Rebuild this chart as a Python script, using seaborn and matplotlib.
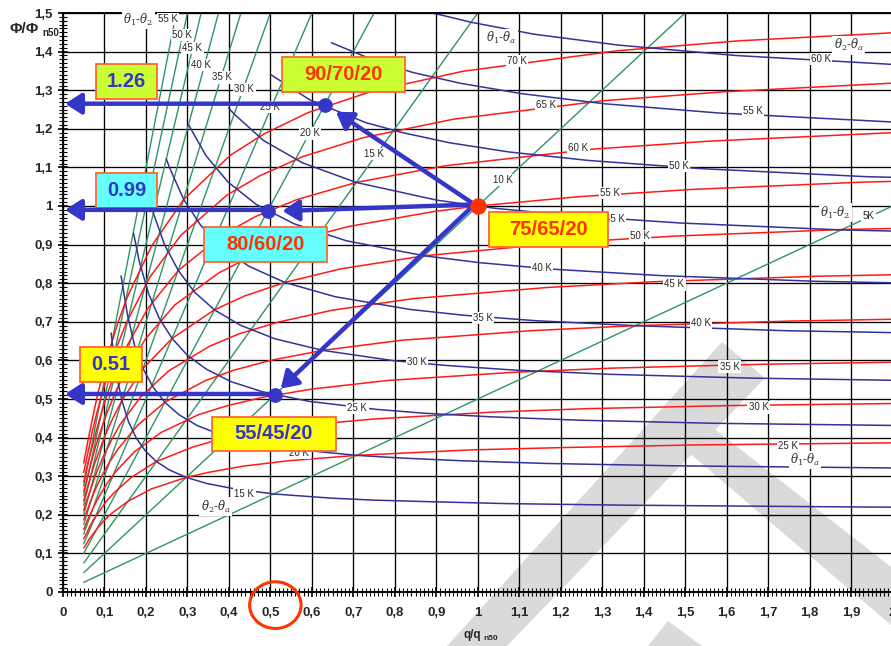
import matplotlib
matplotlib.use("Agg")
import matplotlib.pyplot as plt
import seaborn as sns
from matplotlib.patches import Rectangle, Ellipse, Polygon

# ---- data (q/qn50 -> x, Phi/Phin50 -> y) ----
# red: theta1 - theta_a constant
red70_q = [0.050, 0.061, 0.073, 0.084, 0.096, 0.112, 0.133, 0.157, 0.214, 0.291, 0.404, 0.485, 0.591, 0.741, 0.964, 1.335, 1.631, 2.076]
red70_phi = [0.334, 0.397, 0.459, 0.514, 0.564, 0.627, 0.700, 0.769, 0.897, 1.017, 1.132, 1.187, 1.242, 1.296, 1.349, 1.402, 1.428, 1.453]
red65_q = [0.050, 0.060, 0.071, 0.082, 0.094, 0.109, 0.130, 0.153, 0.209, 0.284, 0.395, 0.474, 0.578, 0.724, 0.942, 1.305, 1.596, 2.031]
red65_phi = [0.310, 0.360, 0.417, 0.466, 0.512, 0.569, 0.636, 0.698, 0.815, 0.924, 1.028, 1.078, 1.128, 1.177, 1.225, 1.273, 1.296, 1.320]
red60_q = [0.050, 0.058, 0.070, 0.081, 0.092, 0.107, 0.127, 0.150, 0.204, 0.278, 0.386, 0.463, 0.565, 0.707, 0.920, 1.274, 1.558, 1.982, 2.892]
red60_phi = [0.285, 0.325, 0.375, 0.420, 0.462, 0.513, 0.573, 0.629, 0.734, 0.833, 0.926, 0.972, 1.017, 1.061, 1.104, 1.147, 1.168, 1.189, 1.215]
red55_q = [0.050, 0.057, 0.068, 0.078, 0.089, 0.104, 0.124, 0.146, 0.199, 0.270, 0.376, 0.451, 0.550, 0.689, 0.896, 1.000, 1.242, 1.518, 1.931, 2.818]
red55_phi = [0.260, 0.290, 0.335, 0.375, 0.412, 0.458, 0.512, 0.562, 0.656, 0.744, 0.827, 0.868, 0.908, 0.947, 0.986, 1.000, 1.024, 1.043, 1.062, 1.085]
red50_q = [0.050, 0.055, 0.066, 0.076, 0.087, 0.101, 0.121, 0.142, 0.193, 0.263, 0.365, 0.438, 0.535, 0.669, 0.871, 1.207, 1.475, 1.877, 2.738]
red50_phi = [0.236, 0.256, 0.296, 0.332, 0.364, 0.405, 0.452, 0.496, 0.579, 0.657, 0.731, 0.767, 0.802, 0.837, 0.871, 0.905, 0.922, 0.939, 0.958]
red45_q = [0.050, 0.053, 0.064, 0.074, 0.084, 0.098, 0.117, 0.137, 0.187, 0.255, 0.354, 0.425, 0.518, 0.649, 0.844, 1.169, 1.429, 1.818, 2.653]
red45_phi = [0.211, 0.224, 0.258, 0.289, 0.318, 0.353, 0.394, 0.433, 0.505, 0.573, 0.637, 0.669, 0.699, 0.730, 0.760, 0.789, 0.804, 0.818, 0.836]
red40_q = [0.050, 0.062, 0.071, 0.081, 0.095, 0.113, 0.133, 0.181, 0.246, 0.342, 0.410, 0.500, 0.626, 0.815, 1.129, 1.379, 1.755, 2.561]
red40_phi = [0.187, 0.222, 0.248, 0.273, 0.303, 0.338, 0.371, 0.433, 0.492, 0.547, 0.574, 0.600, 0.626, 0.652, 0.677, 0.690, 0.702, 0.717]
red35_q = [0.050, 0.059, 0.069, 0.078, 0.091, 0.108, 0.127, 0.173, 0.236, 0.328, 0.394, 0.480, 0.602, 0.783, 1.084, 1.325, 1.687, 2.460]
red35_phi = [0.162, 0.186, 0.209, 0.229, 0.255, 0.284, 0.312, 0.364, 0.413, 0.460, 0.482, 0.504, 0.526, 0.548, 0.569, 0.580, 0.590, 0.603]
red30_q = [0.050, 0.057, 0.065, 0.074, 0.087, 0.103, 0.122, 0.166, 0.225, 0.314, 0.376, 0.459, 0.574, 0.747, 1.035, 1.265, 1.610, 2.349]
red30_phi = [0.138, 0.152, 0.171, 0.188, 0.208, 0.233, 0.256, 0.298, 0.338, 0.376, 0.395, 0.413, 0.431, 0.448, 0.466, 0.475, 0.483, 0.493]
red25_q = [0.050, 0.054, 0.062, 0.071, 0.082, 0.098, 0.115, 0.157, 0.213, 0.297, 0.356, 0.434, 0.544, 0.708, 0.980, 1.198, 1.525, 2.224]
red25_phi = [0.114, 0.120, 0.135, 0.148, 0.164, 0.184, 0.202, 0.235, 0.267, 0.297, 0.311, 0.326, 0.340, 0.354, 0.368, 0.374, 0.381, 0.389]

# blue: theta2 - theta_a constant
blue60_q = [0.884, 0.984, 1.136, 1.338, 1.621, 2.046]
blue60_phi = [1.502, 1.476, 1.445, 1.417, 1.390, 1.364]
blue55_q = [0.647, 0.751, 0.843, 0.958, 1.106, 1.304, 1.580, 1.993, 2.880]
blue55_phi = [1.423, 1.377, 1.346, 1.318, 1.291, 1.265, 1.241, 1.218, 1.192]
blue50_q = [0.500, 0.595, 0.730, 0.819, 0.931, 1.075, 1.267, 1.535, 1.937, 2.798]
blue50_phi = [1.341, 1.275, 1.216, 1.190, 1.164, 1.140, 1.118, 1.097, 1.076, 1.053]
blue45_q = [0.399, 0.413, 0.483, 0.577, 0.707, 0.902, 1.042, 1.227, 1.487, 1.877, 2.711]
blue45_phi = [1.254, 1.238, 1.170, 1.112, 1.061, 1.015, 0.994, 0.975, 0.956, 0.938, 0.918]
blue40_q = [0.303, 0.345, 0.398, 0.466, 0.557, 0.683, 0.871, 1.006, 1.185, 1.436, 1.812, 2.617]
blue40_phi = [1.210, 1.130, 1.062, 1.004, 0.954, 0.910, 0.871, 0.853, 0.836, 0.820, 0.805, 0.788]
blue35_q = [0.249, 0.257, 0.291, 0.332, 0.383, 0.448, 0.535, 0.656, 0.837, 0.966, 1.138, 1.379, 1.741, 2.515]
blue35_phi = [1.122, 1.099, 1.017, 0.950, 0.893, 0.844, 0.802, 0.765, 0.732, 0.717, 0.703, 0.690, 0.677, 0.662]
blue30_q = [0.211, 0.218, 0.245, 0.278, 0.317, 0.365, 0.428, 0.511, 0.626, 0.799, 0.923, 1.087, 1.317, 1.662, 2.401]
blue30_phi = [1.011, 0.981, 0.899, 0.833, 0.777, 0.731, 0.691, 0.656, 0.626, 0.599, 0.587, 0.575, 0.564, 0.554, 0.542]
blue25_q = [0.170, 0.184, 0.206, 0.232, 0.263, 0.300, 0.346, 0.405, 0.483, 0.593, 0.757, 0.873, 1.029, 1.247, 1.574, 2.273]
blue25_phi = [0.930, 0.856, 0.774, 0.709, 0.657, 0.613, 0.577, 0.545, 0.518, 0.494, 0.473, 0.463, 0.454, 0.445, 0.437, 0.428]
blue20_q = [0.140, 0.155, 0.172, 0.193, 0.217, 0.246, 0.280, 0.324, 0.379, 0.452, 0.554, 0.708, 0.817, 0.962, 1.166, 1.472, 2.126]
blue20_phi = [0.819, 0.721, 0.641, 0.579, 0.531, 0.491, 0.459, 0.431, 0.408, 0.387, 0.370, 0.354, 0.347, 0.340, 0.333, 0.327, 0.320]
blue15_q = [0.116, 0.127, 0.142, 0.158, 0.177, 0.199, 0.225, 0.257, 0.297, 0.347, 0.415, 0.508, 0.649, 0.749, 0.883, 1.070, 1.350, 1.950, 2.750]
blue15_phi = [0.671, 0.573, 0.496, 0.441, 0.398, 0.365, 0.338, 0.316, 0.297, 0.281, 0.267, 0.254, 0.243, 0.238, 0.234, 0.229, 0.225, 0.220, 0.217]

# green: theta1 - theta2 constant (straight lines)
green_dt = [5, 10, 15, 20, 25, 30, 35, 40, 45, 50, 55]
green_q0 = [0.05, 0.05, 0.05, 0.05, 0.05, 0.05, 0.05, 0.05, 0.05, 0.05, 0.05]
green_phi0 = [0.025, 0.05, 0.075, 0.1, 0.125, 0.15, 0.175, 0.2, 0.225, 0.25, 0.275]
green_q1 = [2.0, 1.5, 1.0, 0.75, 0.6, 0.5, 0.429, 0.375, 0.333, 0.3, 0.273]
green_phi1 = [1.0, 1.5, 1.5, 1.5, 1.5, 1.5, 1.5, 1.5, 1.5, 1.5, 1.5]

# operating points
point_q = [0.632, 0.495, 0.51]
point_phi = [1.262, 0.987, 0.51]
point_value = ['1.26', '0.99', '0.51']
point_name = ['90/70/20', '80/60/20', '55/45/20']
nominal_q = [1.0]
nominal_phi = [1.0]
nominal_name = '75/65/20'

x_tick_labels = ['0', '0,1', '0,2', '0,3', '0,4', '0,5', '0,6', '0,7', '0,8', '0,9', '1',
                 '1,1', '1,2', '1,3', '1,4', '1,5', '1,6', '1,7', '1,8', '1,9', '2']
y_tick_labels = ['0', '0,1', '0,2', '0,3', '0,4', '0,5', '0,6', '0,7', '0,8', '0,9', '1',
                 '1,1', '1,2', '1,3', '1,4', '1,5']

RED = '#ff1a1a'
BLUE = '#333399'
GREEN = '#2e9466'
ARROW = '#3535c8'
TXT_RED = '#ff3300'

sns.set_style("white")
plt.rcParams['font.family'] = ['Liberation Sans', 'DejaVu Sans']
plt.rcParams['mathtext.fontset'] = 'dejavuserif'

W, H = 891, 646
fig = plt.figure(figsize=(W / 100, H / 100), dpi=100)
ax = fig.add_axes([63 / W, 54 / H, 829.5 / W, 579 / H])
ax.patch.set_alpha(0)


def px(x, y):
    return (x / W, 1 - y / H)


# watermark behind everything
for poly in [[(447, 646), (507, 646), (765, 378), (722, 342)],
             [(680, 445), (703, 420), (891, 567), (891, 625)],
             [(648, 646), (668, 621), (702, 646)]]:
    fig.patches.append(Polygon([px(*p) for p in poly], closed=True, transform=fig.transFigure,
                               fc='#dadada', ec='none', zorder=-5))

# curves
red_curves = [(red70_q, red70_phi), (red65_q, red65_phi), (red60_q, red60_phi), (red55_q, red55_phi),
              (red50_q, red50_phi), (red45_q, red45_phi), (red40_q, red40_phi), (red35_q, red35_phi),
              (red30_q, red30_phi), (red25_q, red25_phi)]
blue_curves = [(blue60_q, blue60_phi), (blue55_q, blue55_phi), (blue50_q, blue50_phi), (blue45_q, blue45_phi),
               (blue40_q, blue40_phi), (blue35_q, blue35_phi), (blue30_q, blue30_phi), (blue25_q, blue25_phi),
               (blue20_q, blue20_phi), (blue15_q, blue15_phi)]

for i in range(len(green_dt)):
    sns.lineplot(x=[green_q0[i], green_q1[i]], y=[green_phi0[i], green_phi1[i]], color=GREEN,
                 lw=1.0, ax=ax, sort=False, estimator=None, legend=False, zorder=2)
for q, phi in red_curves:
    sns.lineplot(x=q, y=phi, color=RED, lw=1.1, ax=ax, sort=False, estimator=None, legend=False, zorder=2)
for q, phi in blue_curves:
    sns.lineplot(x=q, y=phi, color=BLUE, lw=1.1, ax=ax, sort=False, estimator=None, legend=False, zorder=2)

# inline curve labels
lab_box = dict(boxstyle='square,pad=0.12', fc='white', ec='none')
curve_labels = [
    ('70 K', 1.095, 1.375), ('65 K', 1.165, 1.262), ('60 K', 1.243, 1.150), ('55 K', 1.319, 1.034),
    ('50 K', 1.391, 0.922), ('45 K', 1.474, 0.797), ('40 K', 1.538, 0.698), ('35 K', 1.607, 0.584),
    ('30 K', 1.677, 0.478), ('25 K', 1.748, 0.378),
    ('60 K', 1.828, 1.380), ('55 K', 1.663, 1.245), ('50 K', 1.485, 1.103), ('45 K', 1.330, 0.967),
    ('40 K', 1.155, 0.840), ('35 K', 1.012, 0.709), ('30 K', 0.854, 0.596), ('25 K', 0.710, 0.476),
    ('20 K', 0.570, 0.360), ('15 K', 0.4375, 0.255),
    ('55 K', 0.253, 1.484), ('50 K', 0.288, 1.443), ('45 K', 0.312, 1.409), ('40 K', 0.333, 1.365),
    ('35 K', 0.384, 1.333), ('30 K', 0.4375, 1.302), ('25 K', 0.499, 1.256), ('20 K', 0.595, 1.188),
    ('15 K', 0.750, 1.135), ('10 K', 1.060, 1.067), ('5K', 1.942, 0.974),
]
for t, x, y in curve_labels:
    ax.text(x, y, t, fontsize=7, ha='center', va='center', bbox=lab_box, zorder=3)

theta_labels = [
    (r'$\theta_1$-$\theta_2$', 0.181, 1.482), (r'$\theta_1$-$\theta_2$', 1.862, 0.982),
    (r'$\theta_1$-$\theta_a$', 1.057, 1.435), (r'$\theta_1$-$\theta_a$', 1.789, 0.342),
    (r'$\theta_2$-$\theta_a$', 1.894, 1.417), (r'$\theta_2$-$\theta_a$', 0.368, 0.221),
]
for t, x, y in theta_labels:
    ax.text(x, y, t, fontsize=8.5, ha='center', va='center', color='#333333', bbox=lab_box, zorder=3)

# arrows from the nominal point and to the axis
arr = dict(arrowstyle='-|>,head_length=0.7,head_width=0.45', lw=3.2, color=ARROW,
           mutation_scale=14, shrinkA=0, shrinkB=0)
for tip in [(0.658, 1.244), (0.529, 0.987), (0.525, 0.527)]:
    ax.annotate('', xy=tip, xytext=(nominal_q[0] - 0.008, nominal_phi[0] + 0.004),
                arrowprops=arr, zorder=6)
for q, phi in zip(point_q, point_phi):
    ax.annotate('', xy=(0.005, phi + 0.003), xytext=(q, phi + 0.003), arrowprops=arr, zorder=6)

sns.scatterplot(x=point_q, y=point_phi, color=ARROW, s=95, edgecolor=ARROW, ax=ax, zorder=7, legend=False)
sns.scatterplot(x=nominal_q, y=nominal_phi, color='#ff3300', s=120, edgecolor='#ff3300', ax=ax, zorder=7,
                legend=False)

# boxes: (text, x0, y0, x1, y1, face, text colour)
boxes = [
    (point_value[0], 0.079, 1.276, 0.227, 1.367, '#ccff33', ARROW),
    (point_name[0], 0.527, 1.296, 0.825, 1.387, '#ccff33', TXT_RED),
    (point_value[1], 0.079, 0.994, 0.227, 1.086, '#66ffff', ARROW),
    (point_name[1], 0.340, 0.856, 0.637, 0.945, '#66ffff', TXT_RED),
    (nominal_name, 1.028, 0.895, 1.314, 0.985, '#ffff00', TXT_RED),
    (point_value[2], 0.041, 0.545, 0.190, 0.636, '#ffff00', ARROW),
    (point_name[2], 0.359, 0.366, 0.658, 0.454, '#ffff00', ARROW),
]
for t, x0, y0, x1, y1, fc, tc in boxes:
    ax.add_patch(Rectangle((x0, y0), x1 - x0, y1 - y0, fc=fc, ec='#ff6633', lw=1.3, zorder=5))
    ax.text((x0 + x1) / 2, (y0 + y1) / 2, t, fontsize=14.5, fontweight='bold', color=tc,
            ha='center', va='center', zorder=5.5)

# red ring round the 0,5 label
ax.add_patch(Ellipse((0.512, -0.034), 0.124, 0.121, fill=False, ec='#ff3300', lw=2.2, clip_on=False, zorder=8))

# axes, grid, ticks
ax.set_xlim(0, 2)
ax.set_ylim(0, 1.5)
ax.set_xticks([i / 10 for i in range(len(x_tick_labels))])
ax.set_xticklabels(x_tick_labels)
ax.set_yticks([i / 10 for i in range(len(y_tick_labels))])
ax.set_yticklabels(y_tick_labels)
ax.set_xticks([i / 100 for i in range(201)], minor=True)
ax.set_yticks([i / 100 for i in range(151)], minor=True)
ax.grid(which='major', color='black', lw=0.95)
ax.grid(which='minor', visible=False)
ax.set_axisbelow(True)
ax.tick_params(which='both', direction='inout', color='black', bottom=True, left=True)
ax.tick_params(which='major', length=7, width=1.2, pad=7)
ax.tick_params(which='minor', length=6, width=0.8)
ax.tick_params(axis='y', which='major', pad=4)
for lab in ax.get_xticklabels() + ax.get_yticklabels():
    lab.set_fontweight('bold')
    lab.set_fontsize(9.5)
for s in ax.spines.values():
    s.set_color('black')
    s.set_linewidth(1.4)
ax.set_xlabel('')
ax.set_ylabel('')

fig.text(*px(10, 29), 'Φ/Φ', fontsize=11, fontweight='bold', ha='left', va='center')
fig.text(*px(42, 33), 'n50', fontsize=7, fontweight='bold', ha='left', va='center')
fig.text(*px(464, 635), 'q/q', fontsize=8.5, fontweight='bold', ha='left', va='center')
fig.text(*px(483, 639), 'n50', fontsize=6, fontweight='bold', ha='left', va='center')

fig.savefig('out.png', dpi=100)
